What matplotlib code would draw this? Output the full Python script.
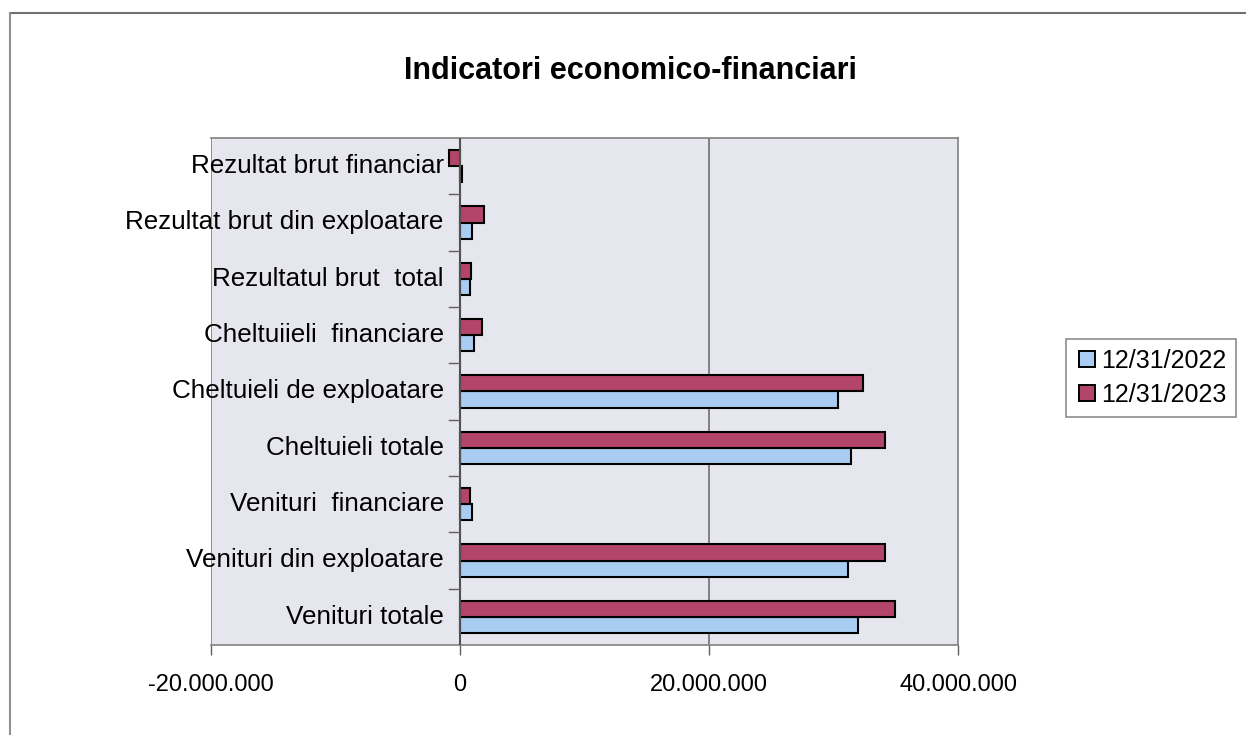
import numpy as np
import matplotlib.pyplot as plt
from matplotlib.lines import Line2D
from matplotlib.ticker import FuncFormatter

plt.rcParams['font.family'] = ['Liberation Sans', 'DejaVu Sans']

# Data (values in lei)
categories = ['Venituri totale', 'Venituri din exploatare', 'Venituri  financiare',
              'Cheltuieli totale', 'Cheltuieli de exploatare', 'Cheltuiieli  financiare',
              'Rezultatul brut  total', 'Rezultat brut din exploatare', 'Rezultat brut financiar']
v2022 = [32000000, 31200000, 1000000, 31400000, 30400000, 1100000, 800000, 1000000, 150000]
v2023 = [34900000, 34100000, 800000, 34100000, 32400000, 1800000, 900000, 1900000, -900000]
series_labels = ['12/31/2022', '12/31/2023']
xticks = [-20000000, 0, 20000000, 40000000]

c2022 = '#a9cdf2'
c2023 = '#b3456a'

fig = plt.figure(figsize=(12.46, 7.35), dpi=100)
ax = fig.add_axes([211/1246, 1 - 645/735, 747/1246, 507/735])
ax.set_facecolor('#e6e6ef')

y = np.arange(len(categories))
h = 0.285
ax.barh(y - h/2, v2022, height=h, color=c2022, edgecolor='black', linewidth=1.5, zorder=3)
ax.barh(y + h/2, v2023, height=h, color=c2023, edgecolor='black', linewidth=1.5, zorder=3)

ax.set_xlim(-20000000, 40000000)
ax.set_ylim(-0.5, len(categories) - 0.5)

# gridline at 20M
ax.axvline(20000000, color='#707070', linewidth=1.2, zorder=1)

for s in ['top', 'right', 'bottom']:
    ax.spines[s].set_color('#808080')
    ax.spines[s].set_linewidth(1.2)
ax.spines['left'].set_visible(False)
ax.axvline(-20000000, color='#808080', linewidth=1.2, zorder=1)
ax.axvline(0, color='#505050', linewidth=1.5, zorder=4)

ax.set_xticks(xticks)
ax.xaxis.set_major_formatter(FuncFormatter(lambda v, p: f'{int(v):,}'.replace(',', '.')))
ax.tick_params(axis='x', length=7, width=1, color='#606060', labelsize=17, pad=14)

# category tick marks at the zero line, labels at centers
ax.set_yticks([])
for b in np.arange(0.5, len(categories) - 1, 1.0):
    ax.plot([-900000, 0], [b, b], color='#606060', linewidth=1, zorder=4, clip_on=False)
for yi, name in zip(y, categories):
    ax.text(-1300000, yi, name, ha='right', va='center', fontsize=18.7, zorder=5)

fig.text(630/1246, 1 - 71/735, 'Indicatori economico-financiari', ha='center', va='center',
         fontsize=22, fontweight='bold')

handles = [Line2D([], [], marker='s', linestyle='none', markersize=11, markerfacecolor=c,
                  markeredgecolor='black', markeredgewidth=1.4) for c in (c2022, c2023)]
leg = fig.legend(handles, series_labels, loc='center left', bbox_to_anchor=(1066/1246, 1 - 378/735),
                 fontsize=18, frameon=True, fancybox=False, handletextpad=0.1,
                 handlelength=0.9, borderpad=0.4, labelspacing=0.4, borderaxespad=0)
leg.get_frame().set_edgecolor('#707070')
leg.get_frame().set_linewidth(1.2)

# outer chart frame (top and left edges)
fig.add_artist(Line2D([10/1246, 1], [1 - 13/735, 1 - 13/735], color='#707070', linewidth=1.5))
fig.add_artist(Line2D([10/1246, 10/1246], [0, 1 - 13/735], color='#909090', linewidth=1.5))

fig.savefig('out.png', dpi=100)
